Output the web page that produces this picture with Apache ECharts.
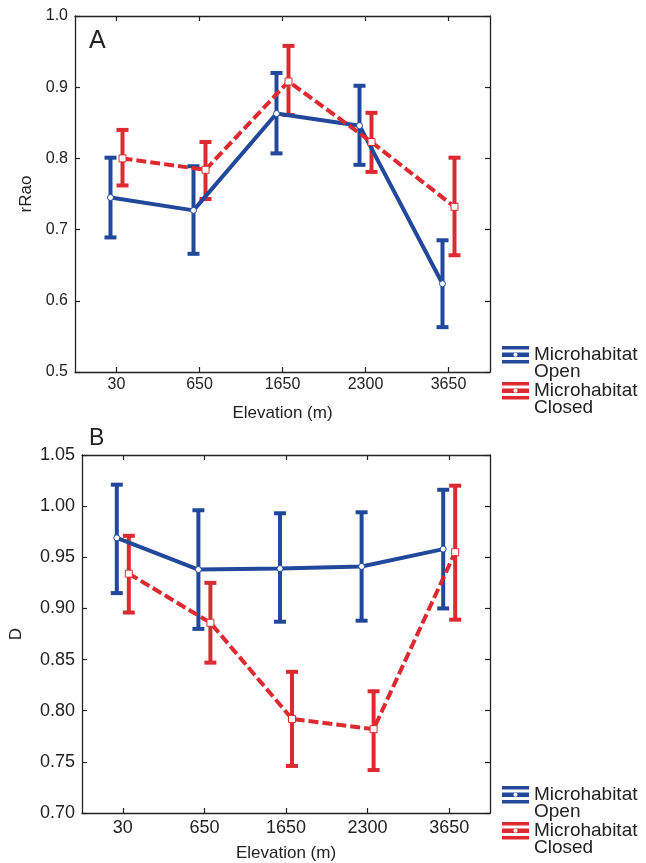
<!DOCTYPE html>
<html>
<head>
<meta charset="utf-8">
<script src="https://cdn.jsdelivr.net/npm/echarts@6/dist/echarts.min.js"></script>
<style>
  html, body { margin: 0; padding: 0; background: #fff; }
  #chart { width: 646px; height: 863px; }
</style>
</head>
<body>
<div id="chart"></div>
<script>
// Elevation classes (m)
const elevations = ['30', '650', '1650', '2300', '3650'];

// Panel A: rRao, mean with lower / upper interval bounds
const rraoOpenMean   = [0.745, 0.727, 0.863, 0.846, 0.624];
const rraoOpenLow    = [0.689, 0.666, 0.807, 0.791, 0.563];
const rraoOpenHigh   = [0.801, 0.789, 0.920, 0.902, 0.685];
const rraoClosedMean = [0.800, 0.784, 0.908, 0.823, 0.732];
const rraoClosedLow  = [0.762, 0.743, 0.861, 0.781, 0.664];
const rraoClosedHigh = [0.840, 0.823, 0.958, 0.864, 0.801];

// Panel B: D, mean with lower / upper interval bounds
const dOpenMean   = [0.969, 0.938, 0.939, 0.941, 0.958];
const dOpenLow    = [0.915, 0.880, 0.887, 0.888, 0.900];
const dOpenHigh   = [1.021, 0.996, 0.993, 0.994, 1.016];
const dClosedMean = [0.934, 0.886, 0.792, 0.782, 0.955];
const dClosedLow  = [0.896, 0.847, 0.746, 0.742, 0.889];
const dClosedHigh = [0.971, 0.925, 0.838, 0.819, 1.020];

const openName = 'Microhabitat\nOpen';
const closedName = 'Microhabitat\nClosed';

const BLUE = '#21489b';
const RED = '#dd2a30';
const INK = '#222222';
const FONT = '"Liberation Sans", Arial, Helvetica, sans-serif';

// Legend glyph: cap / marker / cap bars, with a hole for the marker
const legendGlyph = 'path://M0 0H27V3.5H0Z' +
  'M0 6.5H27V11H0Z' +
  'M15.6 8.75A2.1 2.1 0 1 0 11.4 8.75A2.1 2.1 0 1 0 15.6 8.75Z' +
  'M0 14H27V17.5H0Z' +
  'M0 34L0 34Z';

function errorBarRenderer(color) {
  return function (params, api) {
    const x = api.value(0);
    const lo = api.coord([x, api.value(1)]);
    const hi = api.coord([x, api.value(2)]);
    const half = 6;
    const st = { stroke: color, lineWidth: 4 };
    return {
      type: 'group',
      children: [
        { type: 'line', shape: { x1: lo[0], y1: lo[1], x2: hi[0], y2: hi[1] }, style: st },
        { type: 'line', shape: { x1: lo[0] - half, y1: lo[1], x2: lo[0] + half, y2: lo[1] }, style: st },
        { type: 'line', shape: { x1: hi[0] - half, y1: hi[1], x2: hi[0] + half, y2: hi[1] }, style: st }
      ]
    };
  };
}

const grid = [], xAxis = [], yAxis = [], series = [];

function addPanel(p) {
  const base = grid.length;
  const shift = 6;
  // frame grid with visible axes, then one shifted grid per group
  grid.push({ left: p.left, top: p.top, width: p.width, height: p.height });
  grid.push({ left: p.left - shift, top: p.top, width: p.width, height: p.height });
  grid.push({ left: p.left + shift, top: p.top, width: p.width, height: p.height });

  const tick = { show: true, inside: true, length: 5, alignWithLabel: true, lineStyle: { color: INK, width: 1.2 } };
  const line = { show: true, onZero: false, lineStyle: { color: INK, width: 1.3 } };

  xAxis.push({
    gridIndex: base, type: 'category', data: elevations, position: 'bottom',
    axisLine: line, axisTick: tick,
    axisLabel: { fontSize: p.tickFont, color: INK, margin: p.xLabelMargin, fontFamily: FONT },
    name: 'Elevation (m)', nameLocation: 'middle', nameGap: p.xNameGap,
    nameTextStyle: { fontSize: 17, color: INK, fontFamily: FONT }
  });
  xAxis.push({
    gridIndex: base, type: 'category', data: elevations, position: 'top',
    axisLine: line, axisTick: tick, axisLabel: { show: false }
  });
  yAxis.push({
    gridIndex: base, type: 'value', min: p.min, max: p.max, interval: p.interval, position: 'left',
    axisLine: line, axisTick: tick, splitLine: { show: false },
    axisLabel: { fontSize: p.tickFont, color: INK, margin: p.yLabelMargin, fontFamily: FONT,
                 formatter: v => v.toFixed(p.decimals) },
    name: p.yName, nameLocation: 'middle', nameGap: p.yNameGap, nameRotate: 90,
    nameTextStyle: { fontSize: 17, color: INK, fontFamily: FONT }
  });
  yAxis.push({
    gridIndex: base, type: 'value', min: p.min, max: p.max, interval: p.interval, position: 'right',
    axisLine: line, axisTick: tick, splitLine: { show: false }, axisLabel: { show: false }
  });

  const groups = [
    { g: base + 1, name: openName, color: BLUE, mean: p.openMean, low: p.openLow, high: p.openHigh,
      symbol: 'circle', size: 6, dash: 'solid' },
    { g: base + 2, name: closedName, color: RED, mean: p.closedMean, low: p.closedLow, high: p.closedHigh,
      symbol: 'rect', size: 7, dash: [10, 4] }
  ];
  groups.forEach(gr => {
    xAxis.push({ gridIndex: gr.g, type: 'category', data: elevations, show: false });
    yAxis.push({ gridIndex: gr.g, type: 'value', min: p.min, max: p.max, show: false });
    const xi = xAxis.length - 1, yi = yAxis.length - 1;
    series.push({
      type: 'custom', name: gr.name, xAxisIndex: xi, yAxisIndex: yi,
      renderItem: errorBarRenderer(gr.color),
      encode: { x: 0, y: [1, 2] },
      data: elevations.map((c, i) => [i, gr.low[i], gr.high[i]]),
      silent: true
    });
    series.push({
      type: 'line', name: gr.name, xAxisIndex: xi, yAxisIndex: yi,
      data: gr.mean, symbol: gr.symbol, symbolSize: gr.size, showSymbol: true,
      lineStyle: { color: gr.color, width: 4, type: gr.dash },
      itemStyle: { color: '#ffffff', borderColor: gr.color, borderWidth: 1 },
      emphasis: { disabled: true }
    });
  });
}

addPanel({
  left: 75, top: 16, width: 415, height: 356,
  min: 0.5, max: 1.0, interval: 0.1, decimals: 1,
  yName: 'rRao', yNameGap: 38, xNameGap: 33, tickFont: 16, xLabelMargin: 5, yLabelMargin: 7,
  openMean: rraoOpenMean, openLow: rraoOpenLow, openHigh: rraoOpenHigh,
  closedMean: rraoClosedMean, closedLow: rraoClosedLow, closedHigh: rraoClosedHigh
});
addPanel({
  left: 82, top: 455, width: 408, height: 358,
  min: 0.70, max: 1.05, interval: 0.05, decimals: 2,
  yName: 'D', yNameGap: 57, xNameGap: 32, tickFont: 18, xLabelMargin: 6, yLabelMargin: 7,
  openMean: dOpenMean, openLow: dOpenLow, openHigh: dOpenHigh,
  closedMean: dClosedMean, closedLow: dClosedLow, closedHigh: dClosedHigh
});

function legendAt(top) {
  return {
    left: 502, top: top, orient: 'vertical', itemGap: 0, itemWidth: 27, itemHeight: 34, padding: 0,
    selectedMode: false,
    textStyle: { fontSize: 19, lineHeight: 17, color: INK, fontFamily: FONT },
    data: [
      { name: openName, icon: legendGlyph, itemStyle: { color: BLUE, borderWidth: 0 } },
      { name: closedName, icon: legendGlyph, itemStyle: { color: RED, borderWidth: 0 } }
    ]
  };
}

const chart = echarts.init(document.getElementById('chart'));
chart.setOption({
  animation: false,
  backgroundColor: '#ffffff',
  textStyle: { fontFamily: FONT },
  title: [
    { text: 'A', left: 89, top: 29, padding: 0, textStyle: { fontSize: 25, fontWeight: 'normal', color: INK, fontFamily: FONT } },
    { text: 'B', left: 89, top: 427, padding: 0, textStyle: { fontSize: 23, fontWeight: 'normal', color: INK, fontFamily: FONT } }
  ],
  legend: [legendAt(345), legendAt(785)],
  grid: grid,
  xAxis: xAxis,
  yAxis: yAxis,
  series: series
});
</script>
</body>
</html>
